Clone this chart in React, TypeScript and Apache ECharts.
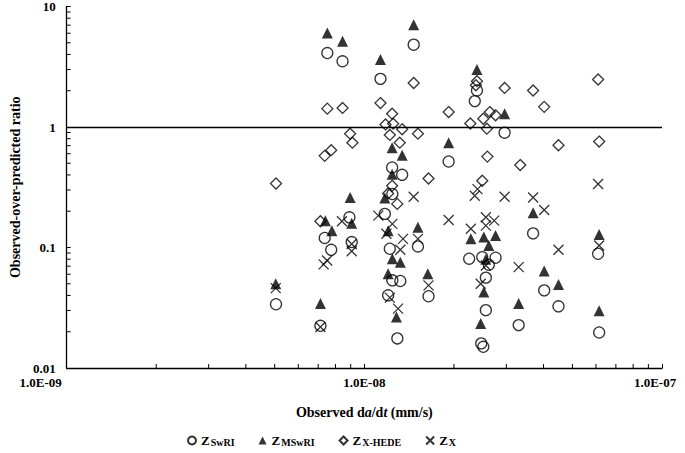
import React, { useEffect, useRef } from "react";
import * as echarts from "echarts";

const SERIES_NAMES = ["ZSwRI", "ZMSwRI", "ZX-HEDE", "ZX"];

const zSwRI: number[][] = [
  [7.51e-9, 4.11], [8.45e-9, 3.51], [1.133e-8, 2.51], [1.465e-8, 4.82], [1.92e-8, 0.517],
  [2.39e-8, 2.01], [2.35e-8, 1.64], [2.96e-8, 0.897], [3.69e-8, 0.131], [1.24e-8, 0.461],
  [1.34e-8, 0.401], [1.242e-8, 0.278], [1.172e-8, 0.19], [1.218e-8, 0.0976], [1.242e-8, 0.0534],
  [1.321e-8, 0.0527], [1.202e-8, 0.0401], [1.291e-8, 0.0176], [1.514e-8, 0.102], [1.643e-8, 0.0394],
  [8.91e-9, 0.178], [9.07e-9, 0.111], [7.36e-9, 0.12], [7.74e-9, 0.0957], [5.05e-9, 0.0338],
  [7.12e-9, 0.0224], [2.25e-8, 0.0807], [2.49e-8, 0.0832], [2.76e-8, 0.0822], [2.62e-8, 0.0719],
  [2.56e-8, 0.0562], [2.56e-8, 0.0302], [2.47e-8, 0.016], [2.51e-8, 0.015], [3.3e-8, 0.0227],
  [4.02e-8, 0.0441], [4.49e-8, 0.0325], [6.1e-8, 0.0887], [6.15e-8, 0.0197],
];

const zMSwRI: number[][] = [
  [7.51e-9, 6.02], [8.45e-9, 5.14], [1.133e-8, 3.63], [1.465e-8, 7.06], [2.39e-8, 3.0],
  [2.96e-8, 1.29], [1.92e-8, 0.741], [1.24e-8, 0.674], [1.34e-8, 0.584], [1.24e-8, 0.406],
  [8.96e-9, 0.26], [1.172e-8, 0.257], [1.202e-8, 0.138], [1.242e-8, 0.0807], [1.321e-8, 0.0756],
  [1.202e-8, 0.0606], [1.282e-8, 0.0265], [1.514e-8, 0.147], [1.634e-8, 0.0606], [7.4e-9, 0.167],
  [9.07e-9, 0.159], [7.78e-9, 0.138], [5.04e-9, 0.0501], [7.12e-9, 0.0343], [2.28e-8, 0.118],
  [2.52e-8, 0.122], [2.76e-8, 0.126], [2.62e-8, 0.104], [2.56e-8, 0.08], [2.52e-8, 0.0427],
  [2.46e-8, 0.0234], [3.3e-8, 0.0343], [3.69e-8, 0.194], [4.02e-8, 0.0637], [4.49e-8, 0.0492],
  [6.15e-8, 0.128], [6.15e-8, 0.0298],
];

const zXHEDE: number[][] = [
  [5.05e-9, 0.34], [7.51e-9, 1.42], [8.45e-9, 1.44], [8.96e-9, 0.88], [9.12e-9, 0.741],
  [7.74e-9, 0.642], [7.36e-9, 0.576], [1.133e-8, 1.58], [1.24e-8, 1.29], [1.178e-8, 1.05],
  [1.25e-8, 1.065], [1.34e-8, 0.957], [1.218e-8, 0.859], [1.514e-8, 0.88], [1.315e-8, 0.741],
  [1.465e-8, 2.32], [1.92e-8, 1.33], [1.643e-8, 0.374], [1.24e-8, 0.325], [1.202e-8, 0.281],
  [1.29e-8, 0.23], [7.12e-9, 0.165], [2.39e-8, 2.4], [2.37e-8, 2.22], [2.96e-8, 2.11],
  [3.69e-8, 2.01], [4.02e-8, 1.47], [6.1e-8, 2.48], [2.27e-8, 1.07], [2.51e-8, 1.17],
  [2.64e-8, 1.33], [2.76e-8, 1.25], [2.58e-8, 0.968], [4.49e-8, 0.706], [6.15e-8, 0.757],
  [2.59e-8, 0.568], [3.34e-8, 0.483], [2.49e-8, 0.358],
];

const zX: number[][] = [
  [1.465e-8, 0.264], [2.35e-8, 0.269], [2.4e-8, 0.305], [2.96e-8, 0.264], [3.69e-8, 0.26],
  [4.02e-8, 0.205], [6.1e-8, 0.336], [1.92e-8, 0.169], [2.28e-8, 0.143], [2.56e-8, 0.178],
  [2.73e-8, 0.167], [2.56e-8, 0.152], [1.514e-8, 0.118], [4.49e-8, 0.0957], [6.15e-8, 0.104],
  [3.3e-8, 0.0687], [1.643e-8, 0.0485], [2.46e-8, 0.0501], [2.56e-8, 0.071], [1.114e-8, 0.184],
  [1.242e-8, 0.157], [1.186e-8, 0.13], [1.349e-8, 0.118], [1.321e-8, 0.0957], [1.218e-8, 0.0384],
  [1.298e-8, 0.0311], [8.41e-9, 0.165], [9.07e-9, 0.107], [9.07e-9, 0.0932], [7.5e-9, 0.0781],
  [7.3e-9, 0.0724], [5.04e-9, 0.046], [7.12e-9, 0.0219],
];

const X_MIN = 1e-9;
const X_MAX = 1e-7;
const Y_MIN = 0.01;
const Y_MAX = 10;
const REF_LINE = 1;

const xMinorTicks = [
  2e-9, 3e-9, 4e-9, 5e-9, 6e-9, 7e-9, 8e-9, 9e-9,
  2e-8, 3e-8, 4e-8, 5e-8, 6e-8, 7e-8, 8e-8, 9e-8,
];
const yMinorTicks = [
  0.02, 0.03, 0.04, 0.05, 0.06, 0.07, 0.08, 0.09,
  0.2, 0.3, 0.4, 0.5, 0.6, 0.7, 0.8, 0.9,
  2, 3, 4, 5, 6, 7, 8, 9,
];

const FONT = "'Liberation Serif', 'Times New Roman', serif";

function fmtX(v: number) {
  const e = Math.round(Math.log10(v));
  return "1.0E-" + String(-e).padStart(2, "0");
}

export default function App() {
  const ref = useRef<HTMLDivElement>(null);

  useEffect(() => {
    if (!ref.current) return;
    const chart = echarts.init(ref.current, undefined, { renderer: "svg" });
    const open = { color: "rgba(0,0,0,0)", borderColor: "#000", borderWidth: 1.3 };

    const tickSeries = (vals: number[], dir: "x" | "y") => ({
      type: "custom",
      silent: true,
      clip: false,
      z: 1,
      data: vals.map((v) => (dir === "x" ? [v, Y_MIN] : [X_MIN, v])),
      renderItem: (params: any, api: any) => {
        const p = api.coord([api.value(0), api.value(1)]);
        const shape =
          dir === "x"
            ? { x1: p[0], y1: p[1], x2: p[0], y2: p[1] - 4 }
            : { x1: p[0], y1: p[1], x2: p[0] + 4, y2: p[1] };
        return { type: "line", shape, style: { stroke: "#000", lineWidth: 1 } };
      },
    });

    chart.setOption({
      animation: false,
      backgroundColor: "#fff",
      textStyle: { fontFamily: FONT },
      grid: { left: 61, right: 23, top: 5, bottom: 85 },
      legend: {
        data: SERIES_NAMES,
        left: 182,
        top: 429,
        itemWidth: 8,
        itemHeight: 8,
        itemGap: 24,
        formatter: (name: string) => "{z|Z}{s|" + name.slice(1) + "}",
        textStyle: {
          rich: {
            z: { fontFamily: FONT, fontWeight: "bold", fontSize: 13, color: "#000", verticalAlign: "bottom" },
            s: { fontFamily: FONT, fontWeight: "bold", fontSize: 10, color: "#000", verticalAlign: "bottom", padding: [0, 0, 0, 1] },
          },
        },
      },
      xAxis: {
        type: "log",
        logBase: 10,
        min: X_MIN,
        max: X_MAX,
        splitLine: { show: false },
        axisLine: { lineStyle: { color: "#000", width: 1.3 } },
        axisTick: { inside: true, length: 4, lineStyle: { color: "#000" } },
        axisLabel: {
          margin: 8,
          color: "#000",
          formatter: (v: number) => {
            const s = fmtX(v);
            if (v <= X_MIN * 1.0001) return "{l|" + s + "}";
            if (v >= X_MAX * 0.9999) return "{r|" + s + "}";
            return "{m|" + s + "}";
          },
          rich: {
            l: { fontFamily: FONT, fontWeight: "bold", fontSize: 13, color: "#000", padding: [0, 52, 0, 0] },
            m: { fontFamily: FONT, fontWeight: "bold", fontSize: 13, color: "#000" },
            r: { fontFamily: FONT, fontWeight: "bold", fontSize: 13, color: "#000", padding: [0, 14, 0, 0] },
          },
        },
        name: "{b|Observed d}{i|a}{b|/d}{i|t}{b| (mm/s)}",
        nameLocation: "middle",
        nameGap: 37,
        nameTextStyle: {
          rich: {
            b: { fontFamily: FONT, fontWeight: "bold", fontSize: 14, color: "#000" },
            i: { fontFamily: FONT, fontWeight: "bold", fontStyle: "italic", fontSize: 14, color: "#000" },
          },
        },
      },
      yAxis: {
        type: "log",
        logBase: 10,
        min: Y_MIN,
        max: Y_MAX,
        splitLine: { show: false },
        axisLine: { lineStyle: { color: "#000", width: 1.3 } },
        axisTick: { inside: true, length: 4, lineStyle: { color: "#000" } },
        axisLabel: {
          margin: 11,
          color: "#000",
          fontFamily: FONT,
          fontWeight: "bold",
          fontSize: 13,
          formatter: (v: number) => String(Number(v.toPrecision(2))),
        },
        name: "Observed-over-predicted ratio",
        nameLocation: "middle",
        nameGap: 42,
        nameTextStyle: { fontFamily: FONT, fontWeight: "bold", fontSize: 14, color: "#000" },
      },
      series: [
        {
          name: "ZSwRI",
          type: "scatter",
          symbol: "circle",
          symbolSize: 11,
          itemStyle: open,
          data: zSwRI,
          markLine: {
            silent: true,
            symbol: ["none", "none"],
            label: { show: false },
            lineStyle: { color: "#000", width: 1.3, type: "solid" },
            data: [{ yAxis: REF_LINE }],
          },
        },
        {
          name: "ZMSwRI",
          type: "scatter",
          symbol: "triangle",
          symbolSize: 11,
          itemStyle: { color: "#000" },
          data: zMSwRI,
        },
        {
          name: "ZX-HEDE",
          type: "scatter",
          symbol: "diamond",
          symbolSize: 11,
          itemStyle: open,
          data: zXHEDE,
        },
        {
          name: "ZX",
          type: "scatter",
          symbol: "path://M0,0L10,10M0,10L10,0",
          symbolSize: 10,
          itemStyle: { color: "rgba(0,0,0,0)", borderColor: "#000", borderWidth: 1.3 },
          data: zX,
        },
        tickSeries(xMinorTicks, "x"),
        tickSeries(yMinorTicks, "y"),
      ],
    });
    return () => chart.dispose();
  }, []);

  return (
    <div
      ref={ref}
      style={{ position: "fixed", left: 0, top: 0, width: 685, height: 453 }}
    />
  );
}
